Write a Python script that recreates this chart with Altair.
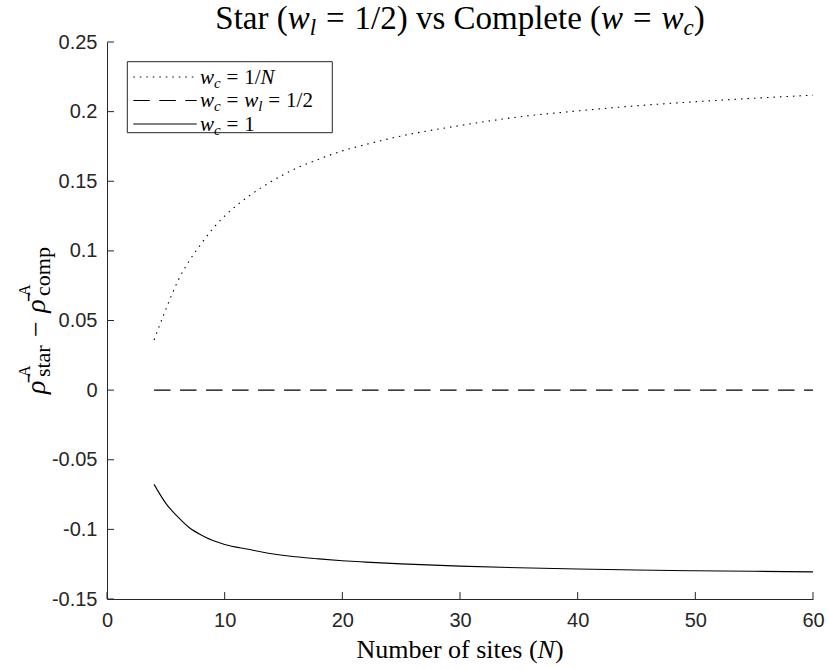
import altair as alt
import pandas as pd

# ---------------- data ----------------
N_sites = [4, 5, 6, 7, 8, 9, 10, 12, 14, 16, 18, 20, 22, 25, 30, 35, 40, 45, 50, 55, 60]
diff_wc_1overN = [0.036, 0.058, 0.078, 0.093, 0.105, 0.116, 0.125, 0.139, 0.150, 0.159,
                  0.1658, 0.1718, 0.1764, 0.1825, 0.1900, 0.1962, 0.2005, 0.2042, 0.2071,
                  0.2096, 0.2118]
diff_wc_half = [0.0] * len(N_sites)
diff_wc_1 = [-0.0677, -0.0813, -0.0909, -0.0988, -0.1040, -0.1080, -0.1108, -0.1143, -0.1175,
             -0.1197, -0.1212, -0.1225, -0.1235, -0.1248, -0.1264, -0.1276, -0.1285, -0.1292,
             -0.1297, -0.1301, -0.1305]
x_ticks = [0, 10, 20, 30, 40, 50, 60]
y_ticks = [-0.15, -0.1, -0.05, 0, 0.05, 0.1, 0.15, 0.2, 0.25]

# ---------------- layout ----------------
W, H = 706, 557
PAD_L, PAD_T = 107, 42
SERIF = "Liberation Serif"
SANS = "Liberation Sans"
INK = "#262626"

XS = alt.Scale(domain=[0, 60], nice=False, zero=False)
YS = alt.Scale(domain=[-0.15, 0.25], nice=False, zero=False)
X_AX = alt.Axis(values=x_ticks, format="d", ticks=False, grid=False, title=None,
                domainColor=INK, domainWidth=1, labelFont=SANS, labelFontSize=20,
                labelColor=INK, labelPadding=11, labelFlush=False, labelOverlap=False)
Y_AX = alt.Axis(values=y_ticks, format="~g", ticks=False, grid=False, title=None,
                domainColor=INK, domainWidth=1, labelFont=SANS, labelFontSize=20,
                labelColor=INK, labelPadding=10, labelFlush=False, labelOverlap=False,
                labelExpr="replace(datum.label, '\u2212', '-')")

one_row = pd.DataFrame({"k": [0]})

# Times / Liberation Serif advance widths (1/1000 em)
ROMAN = {" ": 250, "(": 333, ")": 333, "=": 564, "1": 500, "2": 500, "/": 278, "S": 556,
         "t": 278, "a": 444, "r": 333, "v": 500, "s": 389, "C": 667, "o": 500, "m": 778,
         "p": 500, "l": 278, "e": 444, "N": 722, "u": 500, "b": 500, "f": 333, "i": 278,
         "c": 444, "\u2212": 564, "A": 722}
ITALIC = {" ": 250, "w": 667, "l": 278, "c": 444, "N": 667, "\u03c1": 500, "\u0304": 0}


def seg_w(text, size, italic):
    tab = ITALIC if italic else ROMAN
    return sum(tab.get(ch, 500) for ch in text) * size / 1000.0


def gap(em, size):
    # pure spacing segment: advance only
    return ("", size, False, 0, True, em)


def seg_adv(seg):
    t, s, it, sh, adv = seg[:5]
    extra = seg[5] if len(seg) > 5 else 0
    return seg_w(t, s, it) + extra * s


def make_layers(segments, start, fixed, angle):
    layers = []
    cum = 0.0
    for seg in segments:
        t, s, it, sh, adv = seg[:5]
        body = t.strip()
        if body:
            lead = seg_w(t[: len(t) - len(t.lstrip())], s, it)
            along = start + cum + lead if angle == 0 else start - cum - lead
            if angle == 0:
                xp, yp = along, fixed + sh
            else:
                xp, yp = fixed + sh, along
            layers.append(
                alt.Chart(one_row).mark_text(
                    text=body, font=SERIF, fontSize=s,
                    fontStyle="italic" if it else "normal",
                    align="left", baseline="alphabetic", angle=angle, color="black"
                ).encode(x=alt.value(xp), y=alt.value(yp))
            )
        if adv:
            cum += seg_adv(seg)
    return layers


def centered_text(segments, cx, baseline):
    total = sum(seg_adv(s) for s in segments if s[4])
    return make_layers(segments, cx - total / 2, baseline, 0)


def vertical_text(segments, baseline_x, cy):
    total = sum(seg_adv(s) for s in segments if s[4])
    return make_layers(segments, cy + total / 2, baseline_x, 270)


def left_text(segments, x0, baseline):
    return make_layers(segments, x0, baseline, 0)


# ---------------- data lines ----------------
df_a = pd.DataFrame({"N": N_sites, "v": diff_wc_1overN})
df_b = pd.DataFrame({"N": N_sites, "v": diff_wc_half})
df_c = pd.DataFrame({"N": N_sites, "v": diff_wc_1})

DOT = [1.5, 5]
DASH = [16.5, 9.5]

line_a = alt.Chart(df_a).mark_line(
    color="black", strokeWidth=1.1, strokeDash=DOT, interpolate="monotone"
).encode(x=alt.X("N:Q", scale=XS, axis=X_AX), y=alt.Y("v:Q", scale=YS, axis=Y_AX))
line_b = alt.Chart(df_b).mark_line(
    color="black", strokeWidth=1.1, strokeDash=DASH
).encode(x=alt.X("N:Q", scale=XS, axis=X_AX), y=alt.Y("v:Q", scale=YS, axis=Y_AX))
line_c = alt.Chart(df_c).mark_line(
    color="black", strokeWidth=1.1, interpolate="monotone"
).encode(x=alt.X("N:Q", scale=XS, axis=X_AX), y=alt.Y("v:Q", scale=YS, axis=Y_AX))

# inward ticks (MATLAB style)
xt = alt.Chart(pd.DataFrame({"N": x_ticks})).mark_rule(color=INK, strokeWidth=1).encode(
    x=alt.X("N:Q", scale=XS, axis=X_AX), y=alt.value(H), y2=alt.value(H - 7))
yt = alt.Chart(pd.DataFrame({"v": y_ticks})).mark_rule(color=INK, strokeWidth=1).encode(
    y=alt.Y("v:Q", scale=YS, axis=Y_AX), x=alt.value(0), x2=alt.value(7))

# ---------------- legend ----------------
LX0, LX1, LY0, LY1 = 20.3, 225.3, 19.7, 90.7
legend_box = alt.Chart(one_row).mark_rect(fill="white", stroke=INK, strokeWidth=1).encode(
    x=alt.value(LX0), x2=alt.value(LX1), y=alt.value(LY0), y2=alt.value(LY1))
row_y = [35.0, 58.5, 82.0]
dashes = [DOT, DASH, None]
legend_layers = [legend_box]
for ry, dsh in zip(row_y, dashes):
    kw = dict(color="black", strokeWidth=1.1)
    if dsh is not None:
        kw["strokeDash"] = dsh
    legend_layers.append(alt.Chart(one_row).mark_rule(**kw).encode(
        x=alt.value(26.3), x2=alt.value(89.7), y=alt.value(ry)))
LF, LS = 21, 15
EQ = [gap(0.28, LF), ("=", LF, False, 0, True), gap(0.28, LF)]
legend_layers += left_text([("w", LF, True, 0, True), ("c", LS, True, 4, True), *EQ,
                            ("1/", LF, False, 0, True), ("N", LF, True, 0, True)],
                           93, row_y[0] + 6.5)
legend_layers += left_text([("w", LF, True, 0, True), ("c", LS, True, 4, True), *EQ,
                            ("w", LF, True, 0, True), ("l", LS, True, 4, True), *EQ,
                            ("1/2", LF, False, 0, True)],
                           93, row_y[1] + 6.5)
legend_layers += left_text([("w", LF, True, 0, True), ("c", LS, True, 4, True), *EQ,
                            ("1", LF, False, 0, True)],
                           93, row_y[2] + 6.5)

# ---------------- title & axis titles ----------------
TF, TS = 33, 23
TEQ = [gap(0.3, TF), ("=", TF, False, 0, True), gap(0.3, TF)]
title_layers = centered_text([
    ("Star (", TF, False, 0, True), ("w", TF, True, 0, True), ("l", TS, True, 6, True), *TEQ,
    ("1/2) vs Complete (", TF, False, 0, True), ("w", TF, True, 0, True), *TEQ,
    ("w", TF, True, 0, True), ("c", TS, True, 6, True), (")", TF, False, 0, True)],
    W / 2, -13)

XF = 26
xlabel_layers = centered_text([("Number of sites (", XF, False, 0, True), ("N", XF, True, 0, True),
                               (")", XF, False, 0, True)], W / 2, 616)

YF, YSUB = 28, 22
rho = "\u03c1\u0304"
ylabel_layers = vertical_text([
    (rho, YF, True, 0, True), gap(0.1, YF),
    ("A", 16, False, -15, False), ("star", YSUB, False, 5, True),
    gap(0.3, YF), ("\u2212", YF, False, 0, True), gap(0.3, YF),
    (rho, YF, True, 0, True), gap(0.1, YF),
    ("A", 16, False, -15, False), ("comp", YSUB, False, 5, True)],
    -62, H / 2)

chart = alt.layer(
    line_a, line_b, line_c, xt, yt, *legend_layers, *title_layers, *xlabel_layers, *ylabel_layers
).properties(
    width=W, height=H,
    autosize=alt.AutoSizeParams(type="none"),
    padding={"left": PAD_L, "top": PAD_T, "right": 828 - PAD_L - W, "bottom": 669 - PAD_T - H},
    background="white",
).configure_view(stroke="transparent")

chart.save("out.html", embed_options={"renderer": "svg", "actions": False})
